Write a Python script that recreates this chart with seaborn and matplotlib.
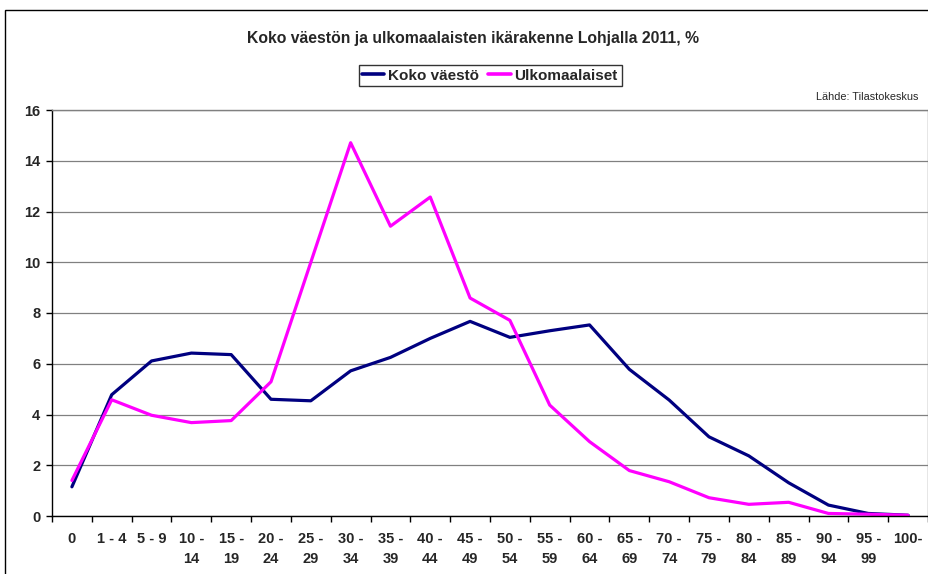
import numpy as np
import pandas as pd
import matplotlib
matplotlib.use("Agg")
import matplotlib.pyplot as plt
import seaborn as sns
from matplotlib.patches import Rectangle

categories = ["0", "1 - 4", "5 - 9", "10 -\n14", "15 -\n19", "20 -\n24", "25 -\n29",
              "30 -\n34", "35 -\n39", "40 -\n44", "45 -\n49", "50 -\n54", "55 -\n59",
              "60 -\n64", "65 -\n69", "70 -\n74", "75 -\n79", "80 -\n84", "85 -\n89",
              "90 -\n94", "95 -\n99", "100-"]
koko_vaesto = [1.15, 4.78, 6.11, 6.42, 6.36, 4.6, 4.54, 5.72, 6.25, 7.0, 7.67, 7.04,
               7.3, 7.53, 5.78, 4.57, 3.12, 2.37, 1.31, 0.43, 0.1, 0.03]
ulkomaalaiset = [1.4, 4.58, 3.97, 3.68, 3.76, 5.29, 10.0, 14.71, 11.42, 12.57, 8.59,
                 7.71, 4.37, 2.93, 1.79, 1.35, 0.72, 0.46, 0.54, 0.1, 0.07, 0.03]
series_names = ["Koko väestö", "Ulkomaalaiset"]
series_colors = ["#000080", "#FF00FF"]
y_ticks = [0, 2, 4, 6, 8, 10, 12, 14, 16]

sns.set_theme(style="white")
plt.rcParams["font.family"] = ["Liberation Sans", "DejaVu Sans"]

W, H = 929, 574
fig = plt.figure(figsize=(W / 100, H / 100), dpi=100)
ax = fig.add_axes([52 / W, 1 - 516 / H, (928 - 52) / W, (516 - 110) / H])

pos = np.arange(len(categories))
df = pd.DataFrame({
    "pos": np.concatenate([pos, pos]),
    "value": koko_vaesto + ulkomaalaiset,
    "series": [series_names[0]] * len(pos) + [series_names[1]] * len(pos),
})
sns.lineplot(data=df, x="pos", y="value", hue="series", hue_order=series_names,
             palette=series_colors, linewidth=2.3, ax=ax, sort=False, legend=True)

ax.set_xlim(-0.5, len(categories) - 0.5)
ax.set_ylim(0, 16)
ax.set_yticks(y_ticks)
ax.set_yticklabels([str(t) for t in y_ticks], fontsize=10.5, fontweight="bold")
ax.set_xticks(pos)
ax.set_xticklabels(categories, fontsize=10.5, fontweight="bold", linespacing=1.55)
ax.set_xticks(np.arange(len(categories) + 1) - 0.5, minor=True)
ax.tick_params(axis="x", which="major", length=0, pad=11.5)
ax.tick_params(axis="x", which="minor", length=4.5, width=1, color="black", direction="out", bottom=True)
ax.tick_params(axis="y", which="major", length=4.5, width=1, color="black", direction="out", left=True, pad=4)
ax.set_xlabel("")
ax.set_ylabel("")
ax.grid(axis="y", color="#808080", linewidth=0.9)
ax.set_axisbelow(True)
for s in ["top", "right"]:
    ax.spines[s].set_color("#808080")
    ax.spines[s].set_linewidth(1.0)
for s in ["left", "bottom"]:
    ax.spines[s].set_color("black")
    ax.spines[s].set_linewidth(1.0)

handles, labels = ax.get_legend_handles_labels()
ax.get_legend().remove()
leg = fig.legend(handles, labels, loc="center", bbox_to_anchor=(490 / W, 1 - 75.5 / H),
                 ncol=2, frameon=True, fancybox=False, edgecolor="black",
                 prop={"size": 11, "weight": "bold"}, handlelength=1.45,
                 handletextpad=0.25, columnspacing=0.6, borderpad=0.25,
                 borderaxespad=0)
leg.get_frame().set_linewidth(1.0)
for lh in leg.get_lines():
    lh.set_linewidth(2.6)

fig.text(473 / W, 1 - 38 / H, "Koko väestön ja ulkomaalaisten ikärakenne Lohjalla 2011, %",
         ha="center", va="center", fontsize=11.3, fontweight="bold")
fig.text(918 / W, 1 - 97 / H, "Lähde: Tilastokeskus", ha="right", va="center", fontsize=7.8)

fig.patches.append(Rectangle((5 / W, -0.05), 1.0, 1 - 10 / H + 0.05, transform=fig.transFigure,
                             fill=False, edgecolor="black", linewidth=1.0))

fig.savefig("out.png", dpi=100)
